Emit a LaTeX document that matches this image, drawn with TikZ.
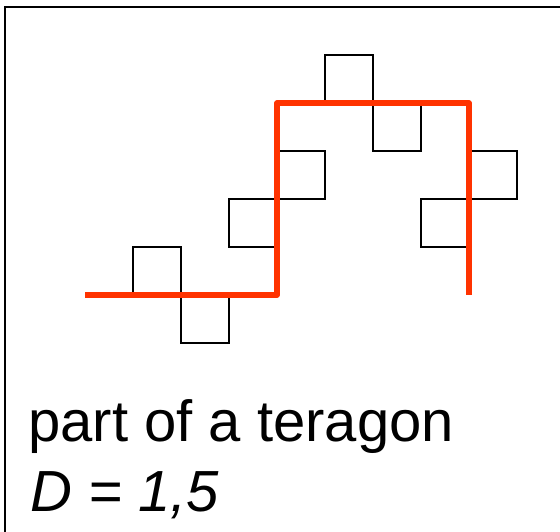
\documentclass[tikz,border=0pt]{standalone}
\usepackage{fontspec}
\setmainfont{Liberation Sans}
\definecolor{tered}{HTML}{FF3300}
\tikzset{
  gen/.style={line width=1.3pt, black, line join=miter},
  red gen/.style={line width=5.5pt, tered, line join=round},
  frame/.style={line width=2pt, black},
  caption/.style={anchor=base west, inner sep=0pt, font=\fontsize{58}{70}\selectfont}
}
\begin{document}
\begin{tikzpicture}[x=1pt,y=-1pt]
\useasboundingbox (0,0) rectangle (560,532);
\clip (0,0) rectangle (560,532);
\draw[frame] (5,7) rectangle (600,600);
% black teragon (second generation)
\draw[gen] (85,295) -- (133,295) -- (133,247) -- (181,247) -- (181,343) -- (229,343) -- (229,295) -- (277,295)
  -- (277,247) -- (229,247) -- (229,199) -- (325,199) -- (325,151) -- (277,151) -- (277,103)
  -- (325,103) -- (325,55) -- (373,55) -- (373,151) -- (421,151) -- (421,103) -- (469,103)
  -- (469,151) -- (517,151) -- (517,199) -- (421,199) -- (421,247) -- (469,247) -- (469,295);
% red generator
\draw[red gen] (85,295) -- (277,295) -- (277,103) -- (469,103) -- (469,295);
\node[caption] (t1) at (28,441) {part of a teragon};
\node[caption] (t2) at (30,511) {\itshape D = 1,5};
\end{tikzpicture}
\end{document}
